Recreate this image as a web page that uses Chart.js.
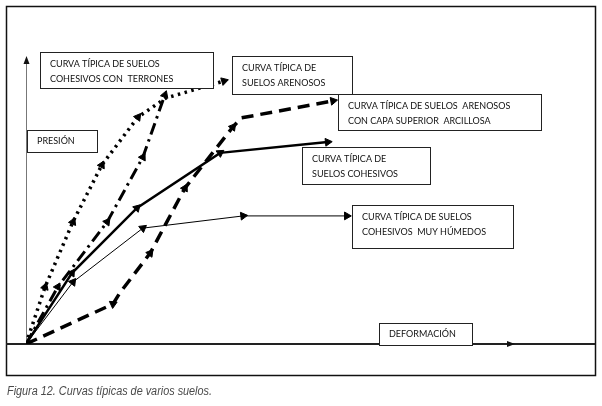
<!DOCTYPE html>
<html lang="es">
<head>
<meta charset="utf-8">
<title>Curvas típicas de varios suelos</title>
<script src="https://cdn.jsdelivr.net/npm/chart.js@4/dist/chart.umd.min.js"></script>
<style>
  html, body { margin: 0; padding: 0; background: #fff; overflow: hidden; }
  canvas { display: block; }
</style>
</head>
<body>
<canvas id="grafico" width="602" height="406"></canvas>
<script>
// === DATOS (deformación vs presión, unidades relativas 0-100) ===
const etiquetas = [
    "Suelos arenosos",
    "Suelos cohesivos con terrones",
    "Suelos cohesivos",
    "Suelos cohesivos muy húmedos",
    "Suelos arenosos con capa superior arcillosa"
];

const arenososX = [0, 3.9, 9.6, 15.5, 22.9, 28.6, 40.5];
const arenososY = [0, 20.1, 43.0, 63.0, 79.9, 86.6, 92.6];

const terronesX = [0, 6.5, 16.6, 23.9, 28.4];
const terronesY = [0, 20.1, 43.0, 65.8, 87.7];

const cohesivosX = [0, 9.4, 22.7, 39.7, 61.7];
const cohesivosY = [0, 25.0, 47.9, 67.3, 71.1];

const humedosX = [0, 9.6, 23.9, 44.4, 65.6];
const humedosY = [0, 21.8, 40.8, 45.1, 45.1];

const capaX = [0, 17.8, 19.2, 25.4, 32.5, 42.3, 44.0, 62.8];
const capaY = [0, 14.1, 18.0, 32.0, 54.9, 76.4, 79.6, 85.6];

// Cajas de texto (posiciones en pixeles del dibujo)
const cajas = [
    { x: 40,  y: 52,  w: 173, h: 36, lineas: ["CURVA TÍPICA DE SUELOS", "COHESIVOS CON  TERRONES"] },
    { x: 232, y: 56,  w: 120, h: 38, lineas: ["CURVA TÍPICA DE", "SUELOS ARENOSOS"] },
    { x: 338, y: 94,  w: 203, h: 36, lineas: ["CURVA TÍPICA DE SUELOS  ARENOSOS", "CON CAPA SUPERIOR  ARCILLOSA"] },
    { x: 302, y: 147, w: 128, h: 37, lineas: ["CURVA TÍPICA DE", "SUELOS COHESIVOS"] },
    { x: 352, y: 205, w: 161, h: 43, lineas: ["CURVA TÍPICA DE SUELOS", "COHESIVOS  MUY HÚMEDOS"] },
    { x: 27,  y: 130, w: 70,  h: 22, lineas: ["PRESIÓN"] },
    { x: 379, y: 323, w: 93,  h: 22, lineas: ["DEFORMACIÓN"] }
];

const FUENTE_CAJA = '9px Lato, "Open Sans", sans-serif';
const PIE = "Figura 12. Curvas típicas de varios suelos.";

function puntos(xs, ys) {
    return xs.map((x, i) => ({ x: x, y: ys[i] }));
}

// Flecha orientada segun el tramo que llega al punto
function rotacion(ctx) {
    const i = ctx.dataIndex;
    if (i === 0) return 0;
    const d = ctx.dataset.data;
    const sx = ctx.chart.scales.x, sy = ctx.chart.scales.y;
    const dx = sx.getPixelForValue(d[i].x) - sx.getPixelForValue(d[i - 1].x);
    const dy = sy.getPixelForValue(d[i].y) - sy.getPixelForValue(d[i - 1].y);
    return Math.atan2(dy, dx) * 180 / Math.PI + 90;
}

function serie(nombre, xs, ys, estilo, flechas) {
    return {
        label: nombre,
        data: puntos(xs, ys),
        borderColor: '#000',
        backgroundColor: '#000',
        borderWidth: estilo.ancho,
        borderDash: estilo.dash || [],
        borderCapStyle: 'butt',
        borderJoinStyle: 'miter',
        tension: 0,
        fill: false,
        pointStyle: 'triangle',
        pointBackgroundColor: '#000',
        pointBorderColor: '#000',
        pointBorderWidth: 1,
        pointRadius: ctx => flechas.includes(ctx.dataIndex) ? 4.5 : 0,
        pointHoverRadius: 0,
        pointRotation: rotacion
    };
}

function flecha(c, x, y, ang, largo, ancho) {
    c.save();
    c.translate(x, y);
    c.rotate(ang);
    c.beginPath();
    c.moveTo(0, 0);
    c.lineTo(-largo, -ancho / 2);
    c.lineTo(-largo, ancho / 2);
    c.closePath();
    c.fill();
    c.restore();
}

const marco = {
    id: 'marco',
    beforeDatasetsDraw(chart) {
        const c = chart.ctx;
        const sx = chart.scales.x, sy = chart.scales.y;
        const x0 = Math.round(sx.getPixelForValue(0)) + 0.5;
        const y0 = Math.round(sy.getPixelForValue(0));
        c.save();
        // marco exterior
        c.strokeStyle = '#111';
        c.lineWidth = 1.5;
        c.strokeRect(6.5, 6.5, 589, 369);
        // eje de presion
        c.strokeStyle = '#777';
        c.fillStyle = '#111';
        c.lineWidth = 1;
        c.beginPath();
        c.moveTo(x0, y0);
        c.lineTo(x0, sy.top);
        c.stroke();
        flecha(c, x0, sy.top - 4, -Math.PI / 2, 8, 6);
        // eje de deformacion
        c.strokeStyle = '#222';
        c.lineWidth = 2;
        c.beginPath();
        c.moveTo(6, y0);
        c.lineTo(595, y0);
        c.stroke();
        flecha(c, sx.right, y0, 0, 8, 6);
        c.restore();
    },
    afterDatasetsDraw(chart) {
        const c = chart.ctx;
        c.save();
        c.font = FUENTE_CAJA;
        c.textBaseline = 'middle';
        c.textAlign = 'left';
        cajas.forEach(b => {
            c.fillStyle = '#fff';
            c.fillRect(b.x, b.y, b.w, b.h);
            c.strokeStyle = '#222';
            c.lineWidth = 1;
            c.strokeRect(b.x + 0.5, b.y + 0.5, b.w, b.h);
            c.fillStyle = '#111';
            if (b.lineas.length === 1) {
                c.fillText(b.lineas[0], b.x + 10, b.y + b.h / 2 + 0.5);
            } else {
                b.lineas.forEach((t, k) => c.fillText(t, b.x + 10, b.y + 12.5 + k * 14.5));
            }
        });
        // pie de figura, tipografia condensada
        c.fillStyle = '#4a4a4a';
        c.font = 'italic 12.5px "Liberation Sans", "DejaVu Sans", sans-serif';
        const ancho = c.measureText(PIE).width;
        c.translate(7, 392);
        c.scale(205 / ancho, 1);
        c.fillText(PIE, 0, 0);
        c.restore();
    }
};

new Chart(document.getElementById('grafico'), {
    type: 'line',
    data: {
        datasets: [
            serie(etiquetas[0], arenososX, arenososY, { ancho: 3.5, dash: [2.5, 4.5] }, [1, 2, 3, 4, 6]),
            serie(etiquetas[1], terronesX, terronesY, { ancho: 3, dash: [12, 5, 2.5, 5] }, [1, 2, 3, 4]),
            serie(etiquetas[2], cohesivosX, cohesivosY, { ancho: 2.5 }, [1, 2, 3, 4]),
            serie(etiquetas[3], humedosX, humedosY, { ancho: 1 }, [1, 2, 3, 4]),
            serie(etiquetas[4], capaX, capaY, { ancho: 3.5, dash: [12, 7] }, [1, 3, 4, 5, 7])
        ]
    },
    options: {
        responsive: false,
        animation: false,
        events: [],
        layout: { padding: { left: 26, right: 87, top: 60, bottom: 62 } },
        plugins: {
            legend: { display: false },
            tooltip: { enabled: false },
            title: { display: false }
        },
        scales: {
            x: { type: 'linear', min: 0, max: 100, display: false },
            y: { type: 'linear', min: 0, max: 100, display: false }
        }
    },
    plugins: [marco]
});
</script>
</body>
</html>
